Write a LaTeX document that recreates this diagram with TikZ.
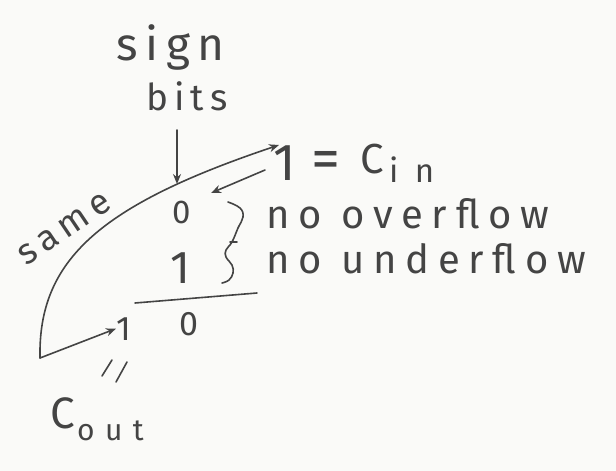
\documentclass[tikz,border=0pt]{standalone}
\usepackage{fontspec}
\newfontfamily\hand[LetterSpace=17]{Fira Sans}
\usetikzlibrary{arrows.meta}
\definecolor{ink}{HTML}{444444}
\definecolor{paper}{HTML}{FAFAF8}
\begin{document}
\begin{tikzpicture}[x=1pt,y=-1pt,
  txt/.style={inner sep=0pt, outer sep=0pt, anchor=base west, text=ink, font=\hand\fontsize{#1}{#1}\selectfont},
  txt/.default=38,
  pen/.style={draw=ink, line width=1.6pt, line cap=round, line join=round},
  arr/.style={pen, -{Stealth[length=10pt,width=8pt]}}]
\fill[paper] (0,0) rectangle (616,471);
\useasboundingbox (0,0) rectangle (616,471);

% labels
\node[txt=46] (sign) at (116,60) {sign};
\node[txt=37] (bits) at (146,110) {bits};
\node[txt=52] (cinone) at (273,180) {1};
\node[txt=58] (cineq) at (311,178) {=};
\node[txt=42] (cinc) at (360,173) {C};
\node[txt=33] (cinsub) at (389,182) {\addfontfeature{LetterSpace=50}in};
\node[txt=33] (zero) at (172,223) {0};
\node[txt=46] (one) at (170,283) {1};
\node[txt=40] (nooverflow) at (266,228) {\addfontfeature{LetterSpace=22}no overflow};
\node[txt=40] (nounderflow) at (266,273) {\addfontfeature{LetterSpace=22}no underflow};
\node[txt=34] (reszero) at (179,335) {0};
\node[txt=34] (resone) at (116,340) {1};
\node[txt=44] (coutc) at (50,428) {C};
\node[txt=30] (coutsub) at (77,440) {\addfontfeature{LetterSpace=35}out};
\node[txt=36, rotate=34, anchor=center] (same) at (65,229) {same};

% coordinates for free ends
\coordinate (corner) at (40,358);
\coordinate (signtip) at (177,184);
\coordinate (signtail) at (177,130);
\coordinate (backstart) at (265,170);
\coordinate (backtip) at (211,193);
\coordinate (ruleA) at (135,303);
\coordinate (ruleB) at (257,293);

% connectors
\draw[arr] (signtail) -- (signtip);
\draw[arr] (corner) .. controls (38,260) and (100,205) .. (279,145);
\draw[arr] (corner) -- (resone.west);
\draw[arr] (backstart) -- (backtip);

% sum rule
\draw[pen] (ruleA) -- (ruleB);

% brace
\draw[pen] plot[smooth, tension=0.7] coordinates {(228,202) (240,208) (243,217) (238,228) (232,242) (226,250) (226,257) (232,265) (233,273) (229,280) (222,283)};
\draw[pen] (230,242) -- (237,242);

% marks under carry-out
\draw[pen] (112,360) -- (102,376);
\draw[pen] (127,362) -- (116,382);
\end{tikzpicture}
\end{document}
